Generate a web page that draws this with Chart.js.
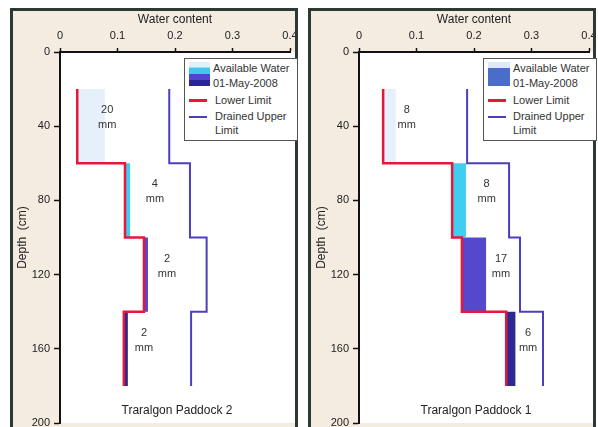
<!DOCTYPE html>
<html>
<head>
<meta charset="utf-8">
<script src="https://cdn.jsdelivr.net/npm/chart.js@4.4.0/dist/chart.umd.min.js"></script>
<style>
html,body{margin:0;padding:0;background:#fff;width:598px;height:427px;overflow:hidden;font-family:"Liberation Sans",Arial,sans-serif;}
.panel{position:absolute;top:8px;width:282px;height:430px;border:3px solid #2d3a34;background:#f4ece1;overflow:hidden;}
.panel canvas{position:absolute;top:-11px;}
.legend{position:absolute;top:58px;height:81px;background:#fff;border:1px solid #555;z-index:5;color:#333;font-size:11px;}
.legend .t{position:absolute;line-height:14px;white-space:nowrap;}
.legend .sw{position:absolute;left:4px;top:3px;width:21px;height:24px;}
.legend .ln{position:absolute;left:4px;width:18px;}
</style>
</head>
<body>
<div class="panel" id="p1" style="left:10px"><canvas id="c1" width="640" height="450" style="left:-13px"></canvas></div>
<div class="panel" id="p2" style="left:308px"><canvas id="c2" width="640" height="450" style="left:-311px"></canvas></div>

<div class="legend" style="left:184px;width:112px;">
  <div class="sw" style="background:linear-gradient(#e4eff9 0%,#e4eff9 22%,#40c8f0 24%,#40c8f0 50%,#4c46d0 52%,#4c46d0 74%,#2a2890 76%,#2a2890 100%);"></div>
  <div class="t" style="left:28px;top:2px">Available Water</div>
  <div class="t" style="left:28px;top:17px">01-May-2008</div>
  <div class="ln" style="top:40px;height:3px;background:#e8173a"></div>
  <div class="t" style="left:30px;top:34px">Lower Limit</div>
  <div class="ln" style="top:57px;height:2px;background:#4b3fbf"></div>
  <div class="t" style="left:30px;top:50px">Drained Upper</div>
  <div class="t" style="left:30px;top:64px">Limit</div>
</div>
<div class="legend" style="left:483px;width:112px;">
  <div class="sw" style="background:linear-gradient(#dfe9f6 0%,#dfe9f6 24%,#4a6ec8 26%,#4a6ec8 100%);width:22px;"></div>
  <div class="t" style="left:29px;top:2px">Available Water</div>
  <div class="t" style="left:29px;top:17px">01-May-2008</div>
  <div class="ln" style="top:40px;height:3px;background:#e8173a"></div>
  <div class="t" style="left:29px;top:34px">Lower Limit</div>
  <div class="ln" style="top:57px;height:2px;background:#4b3fbf"></div>
  <div class="t" style="left:29px;top:50px">Drained Upper</div>
  <div class="t" style="left:29px;top:64px">Limit</div>
</div>

<script>
// ---- data ----
const layerDepths = [20, 60, 100, 140, 180];          // cm, layer boundaries
const xTicks = [0, 0.1, 0.2, 0.3, 0.4];
const yTicks = [0, 40, 80, 120, 160, 200];

// Traralgon Paddock 2
const p2Lower = [0.030, 0.113, 0.146, 0.111];
const p2Upper = [0.190, 0.226, 0.255, 0.228];
const p2Water = [0.078, 0.122, 0.153, 0.118];
const p2mm    = [20, 4, 2, 2];
const p2LabelX = [0.082, 0.165, 0.186, 0.146];

// Traralgon Paddock 1
const p1Lower = [0.042, 0.162, 0.179, 0.256];
const p1Upper = [0.188, 0.261, 0.280, 0.320];
const p1Water = [0.064, 0.186, 0.221, 0.272];
const p1mm    = [8, 8, 17, 6];
const p1LabelX = [0.083, 0.222, 0.247, 0.294];

const FONT = '"Liberation Sans", Arial, sans-serif';
const layerColors2 = ['#e6f0fa', '#40cdf0', '#5448d0', '#2a2890'];
const layerColors1 = ['#e6f0fa', '#40cdf0', '#5448cc', '#2b2a95'];

function stepLine(vals){
  const pts = [];
  vals.forEach((v,i)=>{ pts.push({x:v, y:layerDepths[i]}); pts.push({x:v, y:layerDepths[i+1]}); });
  return pts;
}
function rect(x1,x2,y1,y2){
  return [{x:x1,y:y1},{x:x2,y:y1},{x:x2,y:y2},{x:x1,y:y2},{x:x1,y:y1}];
}

function makeChart(id, lower, upper, water, mm, labelX, colors, title, padL, padR){
  const datasets = [];
  lower.forEach((lo,i)=>{
    datasets.push({
      data: rect(lo, water[i], layerDepths[i], layerDepths[i+1]),
      showLine:true, fill:'shape', backgroundColor:colors[i],
      borderColor:'rgba(0,0,0,0)', borderWidth:0, pointRadius:0, order:2
    });
  });
  datasets.push({data: stepLine(upper), showLine:true, fill:false, borderColor:'#4b3fbf', borderWidth:2, pointRadius:0, order:1});
  datasets.push({data: stepLine(lower), showLine:true, fill:false, borderColor:'#e8173a', borderWidth:2.5, pointRadius:0, order:0});

  const annot = {
    id:'annot',
    beforeDraw(chart){
      const {ctx, chartArea:a} = chart;
      ctx.save(); ctx.fillStyle = '#fff';
      ctx.fillRect(a.left, a.top, chart.width - a.left, a.bottom - a.top);
      ctx.restore();
    },
    afterDatasetsDraw(chart){
      const {ctx, chartArea:a} = chart;
      const xs = chart.scales.x, ys = chart.scales.y;
      ctx.save();
      ctx.fillStyle = '#333'; ctx.textAlign = 'center'; ctx.textBaseline = 'middle';
      ctx.font = '11px ' + FONT;
      mm.forEach((v,i)=>{
        const px = xs.getPixelForValue(labelX[i]);
        const py = ys.getPixelForValue((layerDepths[i]+layerDepths[i+1])/2) - 9;
        ctx.fillText(String(v), px, py - 7);
        ctx.fillText('mm', px, py + 8);
      });
      ctx.fillStyle = '#222';
      ctx.font = '12px ' + FONT;
      ctx.fillText(title, (a.left + a.right)/2 + 2, a.bottom - 12);
      ctx.restore();
    }
  };

  return new Chart(document.getElementById(id), {
    type:'scatter',
    data:{datasets},
    options:{
      responsive:false, animation:false, events:[], devicePixelRatio:1,
      layout:{padding:{left:padL, right:padR, top:0, bottom:27}},
      plugins:{legend:{display:false}, tooltip:{enabled:false}},
      scales:{
        x:{
          type:'linear', position:'top', min:0, max:0.4,
          afterBuildTicks(s){ s.ticks = xTicks.map(v=>({value:v})); },
          afterFit(s){ s.height = 52; },
          ticks:{font:{size:11, family:FONT}, color:'#222', padding:5,
                 callback:v=>String(Math.round(v*10)/10)},
          grid:{drawOnChartArea:false, drawTicks:true, tickLength:4, tickColor:'#111', tickWidth:1.5},
          border:{display:true, color:'#111', width:2},
          title:{display:true, text:'Water content', color:'#222', font:{size:12, family:FONT}, padding:{top:12, bottom:0}}
        },
        y:{
          type:'linear', position:'left', reverse:true, min:0, max:200,
          afterBuildTicks(s){ s.ticks = yTicks.map(v=>({value:v})); },
          afterFit(s){ s.width = 60; },
          ticks:{font:{size:11, family:FONT}, color:'#222', padding:4},
          grid:{drawOnChartArea:false, drawTicks:true, tickLength:6, tickColor:'#111', tickWidth:1.5},
          border:{display:true, color:'#111', width:2},
          title:{display:true, text:'Depth  (cm)', color:'#222', font:{size:12, family:FONT}, padding:{top:15, bottom:0}}
        }
      }
    },
    plugins:[annot]
  });
}

makeChart('c1', p2Lower, p2Upper, p2Water, p2mm, p2LabelX, layerColors2, 'Traralgon Paddock 2', 0, 640-290);
makeChart('c2', p1Lower, p1Upper, p1Water, p1mm, p1LabelX, layerColors1, 'Traralgon Paddock 1', 299, 640-589);
</script>
</body>
</html>
